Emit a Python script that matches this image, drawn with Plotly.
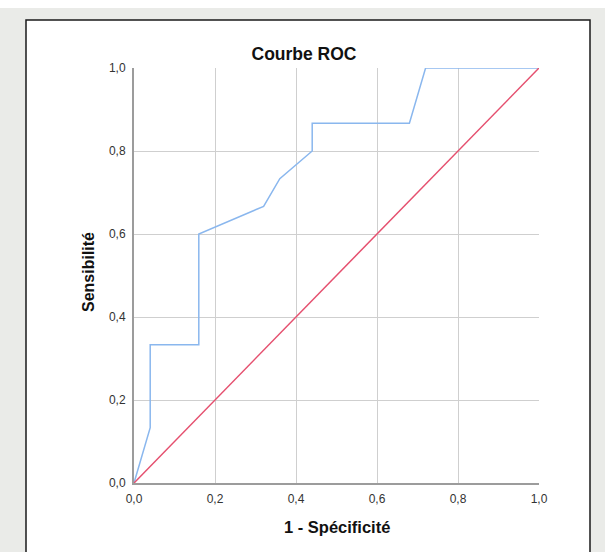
import plotly.graph_objects as go

# ROC curve points (1 - specificity, sensitivity)
fpr = [0.0, 0.04, 0.04, 0.16, 0.16, 0.32, 0.36, 0.44, 0.44, 0.68, 0.72, 1.0]
tpr = [0.0, 0.1333, 0.3333, 0.3333, 0.6, 0.6667, 0.7333, 0.8, 0.8667, 0.8667, 1.0, 1.0]
ref_x = [0.0, 1.0]
ref_y = [0.0, 1.0]
tick_vals = [0.0, 0.2, 0.4, 0.6, 0.8, 1.0]

W, H = 605, 552
L, R, T, B = 134, 539, 68, 483
pw, ph = R - L, B - T


def px(x):
    return (x - L) / pw


def py(y):
    return (B - y) / ph


fig = go.Figure()
fig.add_trace(go.Scatter(x=fpr, y=tpr, mode="lines",
                         line=dict(color="#8ab7ee", width=1.5), hoverinfo="skip"))
fig.add_trace(go.Scatter(x=ref_x, y=ref_y, mode="lines",
                         line=dict(color="#e5506f", width=1.5), hoverinfo="skip"))

axis_common = dict(
    range=[0, 1], tickvals=tick_vals, tickformat=".1f",
    showgrid=True, gridcolor="#cfcfcf", gridwidth=1,
    showline=True, linecolor="#9c9c9c", linewidth=2,
    zeroline=False, ticks="", fixedrange=True,
    tickfont=dict(family="Liberation Sans, Arial", size=12, color="#333333"),
)

fig.update_layout(
    width=W, height=H,
    margin=dict(l=L, r=W - R, t=T, b=H - B),
    paper_bgcolor="#eaebe8", plot_bgcolor="white",
    separators=", ",
    showlegend=False,
    xaxis=dict(**axis_common, ticklabelstandoff=4),
    yaxis=dict(**axis_common, ticklabelstandoff=4),
    title=dict(text="<b>Courbe ROC</b>", x=304 / W, xref="container", xanchor="center",
               y=1 - 54 / H, yref="container", yanchor="middle",
               font=dict(family="Liberation Sans, Arial", size=17.5, color="#111111")),
    shapes=[
        dict(type="rect", xref="paper", yref="paper", layer="below",
             x0=px(26), x1=px(590), y0=py(570), y1=py(20),
             fillcolor="white", line=dict(color="#1a1a1a", width=1.5)),
        dict(type="rect", xref="paper", yref="paper", layer="below",
             x0=px(-5), x1=px(610), y0=py(8), y1=py(-5),
             fillcolor="white", line=dict(width=0)),
    ],
    annotations=[
        dict(text="<b>1 - Spécificité</b>", xref="paper", yref="paper",
             x=0.5, y=py(527), xanchor="center", yanchor="middle", showarrow=False,
             font=dict(family="Liberation Sans, Arial", size=16.5, color="#111111")),
        dict(text="<b>Sensibilité</b>", xref="paper", yref="paper", textangle=-90,
             x=px(88), y=py(272), xanchor="center", yanchor="middle", showarrow=False,
             font=dict(family="Liberation Sans, Arial", size=16, color="#111111")),
    ],
)

fig.write_html("out.html", config={"displayModeBar": False},
               post_script="document.body.style.margin='0';document.body.style.overflow='hidden';")
